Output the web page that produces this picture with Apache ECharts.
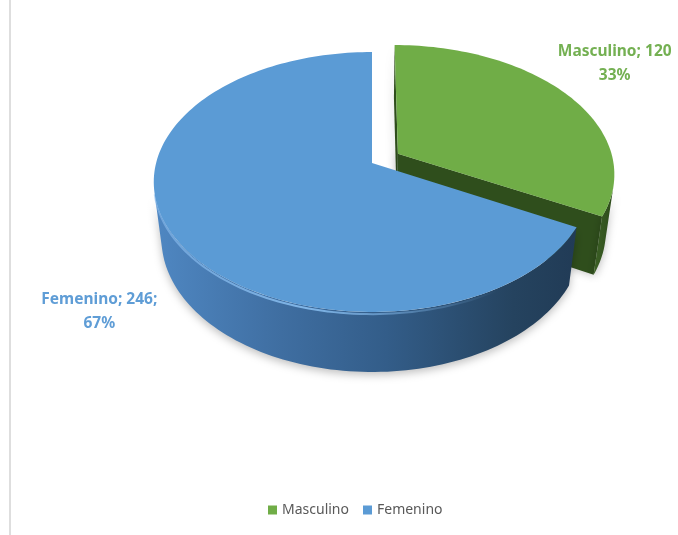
<!DOCTYPE html>
<html>
<head>
<meta charset="utf-8">
<script src="https://cdn.jsdelivr.net/npm/echarts@6/dist/echarts.min.js"></script>
<style>
  html, body { margin: 0; padding: 0; background: #ffffff; }
  #chart { width: 678px; height: 535px; }
</style>
</head>
<body>
<div id="chart"></div>
<script>
// ---- data ----
const categories = ['Masculino', 'Femenino'];
const counts = [120, 246];
const labelSuffix = ['', ';'];

// ---- styling ----
const topColors = ['#70ad47', '#5b9bd5'];
const labelColors = ['#74b052', '#5f9dd6'];
const faceColors = ['#2f4e1c', '#2a4a6b'];
const wallStops = [
  [[0, '#3d6126'], [1, '#2c4a1a']],
  [[0, '#4f87c2'], [0.3, '#3f6ea1'], [0.55, '#335d89'], [0.85, '#25435f'], [1, '#213b56']]
];
const explodeBy = [0.1413, 0];          // fraction of radius
const labelRadius = [1.3, 1.3];
const labelShift = [[2, -14], [-6, 54]];

// ---- 3D view (perspective) ----
const VIEW = { cx: 372, cy: 163, F: 1195, D: 5.535, sinE: 0.589, height: 0.337 };
VIEW.cosE = Math.sqrt(1 - VIEW.sinE * VIEW.sinE);

function project(x, h, z) {
  const depth = VIEW.D - h * VIEW.sinE - z * VIEW.cosE;
  return [VIEW.cx + VIEW.F * x / depth, VIEW.cy + VIEW.F * (z * VIEW.sinE - h * VIEW.cosE) / depth];
}
// angle measured clockwise from 12 o'clock on the disk
function diskPoint(o, r, phi, h) {
  return project(o[0] + r * Math.sin(phi), h, o[1] - r * Math.cos(phi));
}

const total = counts.reduce((a, b) => a + b, 0);
const slices = [];
(function () {
  let acc = 0;
  counts.forEach((v, i) => {
    const a0 = acc / total * Math.PI * 2;
    acc += v;
    const a1 = acc / total * Math.PI * 2;
    const mid = (a0 + a1) / 2;
    slices.push({ a0, a1, mid, o: [explodeBy[i] * Math.sin(mid), -explodeBy[i] * Math.cos(mid)] });
  });
})();

function arcPoints(o, a, b, h) {
  const n = Math.max(6, Math.ceil(Math.abs(b - a) / (Math.PI / 120)));
  const pts = [];
  for (let k = 0; k <= n; k++) pts.push(diskPoint(o, 1, a + (b - a) * k / n, h));
  return pts;
}

function renderSlice(i, value) {
  const s = slices[i];
  const o = s.o;
  const H = -VIEW.height;
  const Dc = VIEW.D * VIEW.cosE;
  const children = [];

  // cut faces, only those turned toward the camera
  const faces = [
    { phi: s.a0, n: [-Math.cos(s.a0), -Math.sin(s.a0)] },
    { phi: s.a1, n: [Math.cos(s.a1), Math.sin(s.a1)] }
  ];
  faces.forEach(f => {
    const vis = f.n[0] * (-o[0]) + f.n[1] * (Dc - o[1]);
    if (vis > 0) {
      children.push({
        type: 'polygon',
        shape: { points: [project(o[0], 0, o[1]), diskPoint(o, 1, f.phi, 0), diskPoint(o, 1, f.phi, H), project(o[0], H, o[1])] },
        style: { fill: faceColors[i], shadowBlur: 10, shadowColor: 'rgba(0,0,0,0.28)' }
      });
    }
  });

  // outer wall: visible part of the rim
  const visibleAt = phi => (-o[0] * Math.sin(phi) - 1 - Dc * Math.cos(phi) + o[1] * Math.cos(phi)) > 0;
  const steps = 360;
  let runStart = null;
  const runs = [];
  for (let k = 0; k <= steps; k++) {
    const phi = s.a0 + (s.a1 - s.a0) * k / steps;
    const v = visibleAt(phi);
    if (v && runStart === null) runStart = phi;
    if ((!v || k === steps) && runStart !== null) { runs.push([runStart, phi]); runStart = null; }
  }
  runs.forEach(r => {
    const topPts = arcPoints(o, r[0], r[1], 0);
    const botPts = arcPoints(o, r[0], r[1], H).reverse();
    children.push({
      type: 'polygon',
      shape: { points: topPts.concat(botPts) },
      style: {
        // light on the left, dark on the right
        fill: new echarts.graphic.LinearGradient(0, 0, 1, 0,
          wallStops[i].map(c => ({ offset: c[0], color: c[1] }))),
        shadowBlur: 9, shadowOffsetY: 3, shadowColor: 'rgba(0,0,0,0.25)'
      }
    });
    // soft bevel highlight along the front rim
    const from = Math.max(r[0], 150 * Math.PI / 180);
    const to = Math.min(r[1], 258 * Math.PI / 180);
    if (to > from) {
      children.push({
        type: 'polyline',
        shape: { points: arcPoints(o, from, to, -0.012) },
        style: {
          fill: null, lineWidth: 2,
          stroke: new echarts.graphic.LinearGradient(0, 0, 1, 0, [
            { offset: 0, color: 'rgba(140,190,240,0.55)' },
            { offset: 0.45, color: 'rgba(140,195,245,0.85)' },
            { offset: 1, color: 'rgba(140,195,245,0)' }
          ])
        }
      });
    }
  });

  // top surface
  const top = [project(o[0], 0, o[1])].concat(arcPoints(o, s.a0, s.a1, 0));
  children.push({ type: 'polygon', shape: { points: top }, style: { fill: topColors[i] } });

  // data label
  const lp = diskPoint(o, labelRadius[i], s.mid, 0);
  const pct = Math.round(value / total * 100);
  children.push({
    type: 'text',
    x: lp[0] + labelShift[i][0],
    y: lp[1] + labelShift[i][1],
    style: {
      text: categories[i] + '; ' + value + labelSuffix[i] + '\n' + pct + '%',
      fill: labelColors[i],
      fontFamily: 'Noto Sans',
      fontWeight: 'bold',
      fontSize: 15.5,
      lineHeight: 24,
      align: 'center',
      verticalAlign: 'middle'
    }
  });
  return { type: 'group', children };
}

const chart = echarts.init(document.getElementById('chart'), null, { renderer: 'canvas' });
chart.setOption({
  animation: false,
  backgroundColor: '#ffffff',
  legend: {
    data: categories,
    left: 263,
    top: 498,
    icon: 'rect',
    itemWidth: 9,
    itemHeight: 9,
    itemGap: 14,
    textStyle: { color: '#595959', fontSize: 14, fontFamily: 'Noto Sans' }
  },
  graphic: [{
    type: 'line',
    shape: { x1: 10, y1: 0, x2: 10, y2: 535 },
    style: { stroke: '#dedede', lineWidth: 2 }
  }],
  series: categories.map((name, i) => ({
    type: 'custom',
    name,
    coordinateSystem: 'none',
    z: 2 + i,
    itemStyle: { color: topColors[i] },
    data: [[counts[i]]],
    renderItem: (params, api) => renderSlice(i, api.value(0))
  }))
});
</script>
</body>
</html>
